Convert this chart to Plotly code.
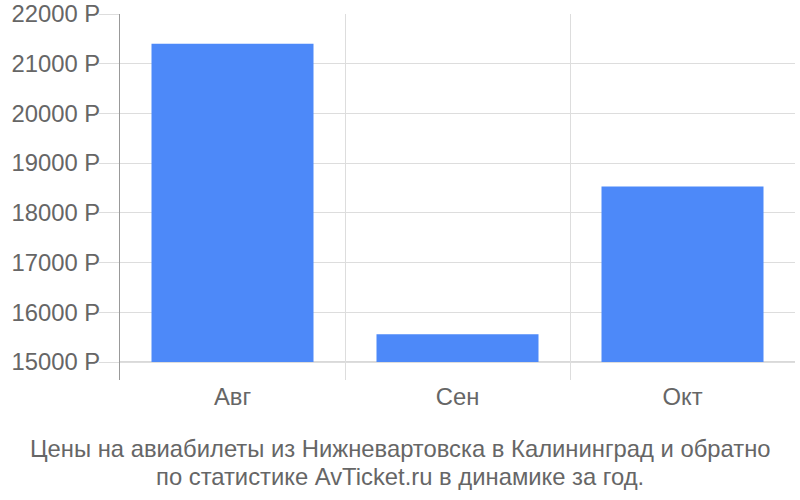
import plotly.graph_objects as go

months = ["Авг", "Сен", "Окт"]
prices = [21400, 15560, 18530]
y_ticks = [15000, 16000, 17000, 18000, 19000, 20000, 21000, 22000]
y_labels = ["%d Р" % v for v in y_ticks]
title_lines = [
    "Цены на авиабилеты из Нижневартовска в Калининград и обратно",
    "по статистике AvTicket.ru в динамике за год.",
]

base = 15000
grey = "#666666"
fs = 23.8

fig = go.Figure(go.Bar(
    x=list(range(len(months))),
    y=[p - base for p in prices],
    base=base,
    width=0.72,
    marker=dict(color="#4d89f9", line=dict(width=0)),
    hoverinfo="skip",
))

fig.update_layout(
    width=800, height=500,
    margin=dict(l=120, r=5, t=14, b=120),
    plot_bgcolor="white", paper_bgcolor="white",
    font=dict(family="Liberation Sans, Arial, sans-serif", size=fs, color=grey),
    showlegend=False,
    xaxis=dict(
        range=[-0.5, 2.5],
        tickvals=list(range(len(months))),
        ticktext=months,
        showgrid=False,
        ticks="",
        zeroline=False,
        showline=False,
        automargin=False,
        tickfont=dict(size=fs, color=grey),
        minor=dict(tick0=0.5, dtick=1, showgrid=True, gridcolor="#dddddd", gridwidth=1),
    ),
    yaxis=dict(
        range=[14638, 22000],
        tickvals=y_ticks,
        ticktext=y_labels,
        showgrid=True,
        gridcolor="#dddddd",
        ticks="outside",
        ticklen=20,
        tickcolor="#dddddd",
        zeroline=False,
        showline=True,
        linecolor="#999999",
        linewidth=1,
        automargin=False,
        ticklabeloverflow="allow",
        ticklabelstandoff=-6,
        tickfont=dict(size=fs, color=grey),
    ),
)

# darker baseline at 15000
fig.add_shape(type="line", xref="paper", yref="y", x0=0, x1=1, y0=base, y1=base,
              line=dict(color="#cccccc", width=1.5), layer="below")

for line, shift in zip(title_lines, [-68, -96]):
    fig.add_annotation(
        text=line,
        xref="paper", yref="paper", x=0.5, y=0, xanchor="center", yanchor="middle",
        showarrow=False, xshift=-57.5, yshift=shift,
        font=dict(size=fs, color=grey),
    )

# drop the default body margin so the figure sits at the page corner
fig.write_html("out.html", config={"displayModeBar": False},
               post_script="document.body.style.margin='0';")
